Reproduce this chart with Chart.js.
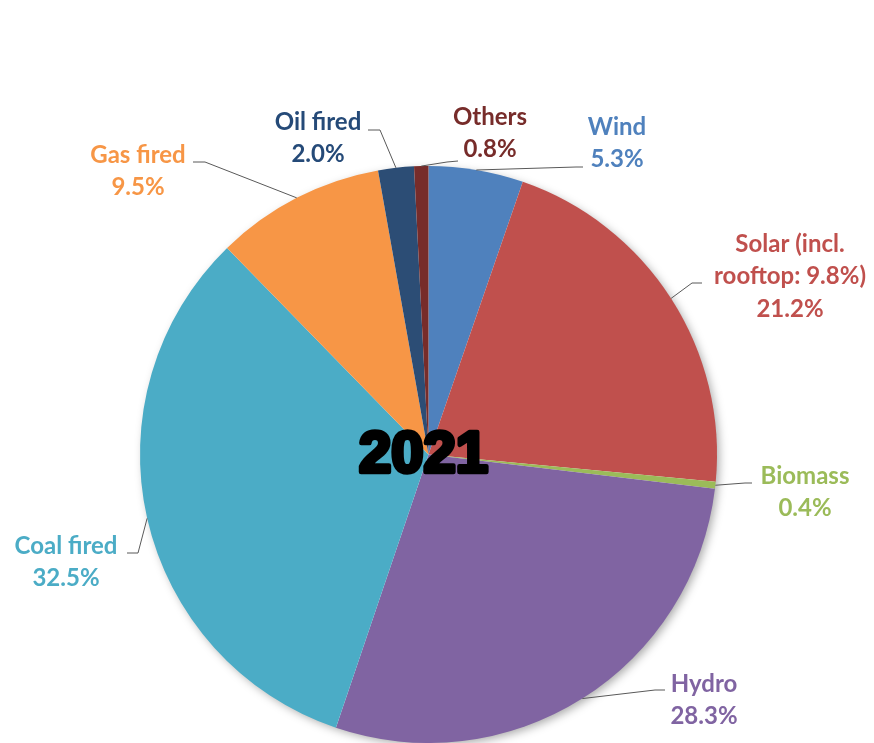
<!DOCTYPE html>
<html>
<head>
<meta charset="utf-8">
<script src="https://cdn.jsdelivr.net/npm/chart.js@4/dist/chart.umd.min.js"></script>
<style>
html,body{margin:0;padding:0;background:#fff;}
#wrap{width:874px;height:743px;position:relative;}
</style>
</head>
<body>
<div id="wrap"><canvas id="c" width="874" height="743"></canvas></div>
<script>
// ---- data ----
const categories = ['Wind','Solar','Biomass','Hydro','Coal fired','Gas fired','Oil fired','Others'];
const shares = [5.3, 21.2, 0.4, 28.3, 32.5, 9.5, 2.0, 0.8];
const labelNames = [['Wind'],['Solar (incl.','rooftop: 9.8%)'],['Biomass'],['Hydro'],['Coal fired'],['Gas fired'],['Oil fired'],['Others']];
const centerTitle = '2021';

// ---- styles ----
const sliceColors = ['#4F81BD','#C0504D','#9BBB59','#8064A2','#4BACC6','#F79646','#2C4D75','#772C2A'];
const labelColors = ['#4F81BD','#C0504D','#9BBB59','#8064A2','#4BACC6','#F79646','#254A78','#772C2A'];
// label layout: text center x, first line center y, leader elbow and end
const labelLayout = [
  {cx:617, cy:127, elbow:[576,167], end:[583,167]},
  {cx:790, cy:244, elbow:[692,283], end:[702,283]},
  {cx:805, cy:476, elbow:[745,483], end:[752,483]},
  {cx:704, cy:684, elbow:[655,690], end:[665,690]},
  {cx:66,  cy:546, elbow:[138,553], end:[127,553]},
  {cx:138, cy:155, elbow:[205,162], end:[193,162]},
  {cx:318, cy:122, elbow:[380,130], end:[368,130]},
  {cx:490, cy:117, elbow:[447,162], end:[458,161]}
];
const lineGap = 32.5;
const labelFont = 'bold 24px Lato';

const shadowPlugin = {
  id:'shadow',
  beforeDatasetsDraw(chart){
    const arc = chart.getDatasetMeta(0).data[0];
    if(!arc) return;
    const {x,y,outerRadius} = arc.getProps(['x','y','outerRadius'], true);
    const ctx = chart.ctx;
    ctx.save();
    ctx.shadowColor = 'rgba(0,0,0,0.35)';
    ctx.shadowBlur = 10;
    ctx.shadowOffsetX = 3;
    ctx.shadowOffsetY = 3;
    ctx.fillStyle = '#ffffff';
    ctx.beginPath();
    ctx.arc(x,y,outerRadius-1,0,Math.PI*2);
    ctx.fill();
    ctx.restore();
  }
};

const labelPlugin = {
  id:'labels',
  afterDatasetsDraw(chart){
    const ctx = chart.ctx;
    const meta = chart.getDatasetMeta(0);
    ctx.save();
    meta.data.forEach((arc,i)=>{
      const p = arc.getProps(['x','y','startAngle','endAngle','outerRadius'], true);
      const mid = (p.startAngle+p.endAngle)/2;
      const sx = p.x + p.outerRadius*Math.cos(mid);
      const sy = p.y + p.outerRadius*Math.sin(mid);
      const L = labelLayout[i];
      ctx.strokeStyle = '#595959';
      ctx.lineWidth = 1;
      ctx.beginPath();
      ctx.moveTo(sx,sy);
      ctx.lineTo(L.elbow[0],L.elbow[1]);
      ctx.lineTo(L.end[0],L.end[1]);
      ctx.stroke();
      const lines = labelNames[i].concat([shares[i].toFixed(1)+'%']);
      ctx.fillStyle = labelColors[i];
      ctx.font = labelFont;
      ctx.textAlign = 'center';
      ctx.textBaseline = 'middle';
      lines.forEach((t,k)=>ctx.fillText(t, L.cx, L.cy + k*lineGap));
    });
    // center title
    const a0 = meta.data[0].getProps(['x','y'], true);
    ctx.font = 'bold 58px "Liberation Sans"';
    ctx.textAlign = 'center';
    ctx.textBaseline = 'alphabetic';
    ctx.fillStyle = '#000';
    ctx.strokeStyle = '#000';
    ctx.lineWidth = 4.5;
    ctx.lineJoin = 'round';
    ctx.strokeText(centerTitle, a0.x-5, 472);
    ctx.fillText(centerTitle, a0.x-5, 472);
    ctx.restore();
  }
};

new Chart(document.getElementById('c'), {
  type:'pie',
  data:{
    labels:categories,
    datasets:[{data:shares, backgroundColor:sliceColors, borderWidth:0, hoverOffset:0}]
  },
  options:{
    responsive:false,
    animation:false,
    layout:{padding:{top:166, bottom:0, left:140, right:157}},
    plugins:{legend:{display:false}, tooltip:{enabled:false}}
  },
  plugins:[shadowPlugin,labelPlugin]
});
</script>
</body>
</html>
